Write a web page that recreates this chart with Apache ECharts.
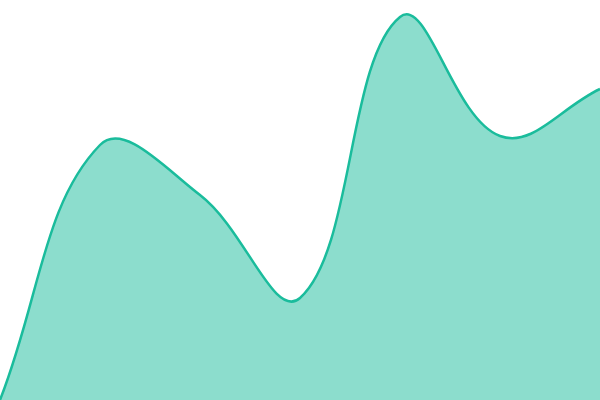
<!DOCTYPE html>
<html>
<head>
<meta charset="utf-8">
<script src="https://cdn.jsdelivr.net/npm/echarts@6/dist/echarts.min.js"></script>
<style>html,body{margin:0;padding:0;background:#fff}#chart{width:600px;height:400px}</style>
</head>
<body>
<div id="chart"></div>
<script>
const categories = ['1', '2', '3', '4', '5', '6', '7'];
const values = [0, 255, 205, 102, 383, 264, 311];
const tension = 0.4;

function splinePath(pts, closeToY) {
  const n = pts.length;
  const cps = [];
  for (let i = 0; i < n; i++) {
    const cur = pts[i];
    const prev = pts[i - 1] || cur;
    const next = pts[i + 1] || cur;
    const d01 = Math.hypot(cur[0] - prev[0], cur[1] - prev[1]);
    const d12 = Math.hypot(next[0] - cur[0], next[1] - cur[1]);
    let s01 = d01 / (d01 + d12), s12 = d12 / (d01 + d12);
    if (!isFinite(s01)) s01 = 0;
    if (!isFinite(s12)) s12 = 0;
    const fa = tension * s01, fb = tension * s12;
    cps.push({
      prev: [cur[0] - fa * (next[0] - prev[0]), cur[1] - fa * (next[1] - prev[1])],
      next: [cur[0] + fb * (next[0] - prev[0]), cur[1] + fb * (next[1] - prev[1])]
    });
  }
  let d = 'M' + pts[0][0] + ' ' + pts[0][1];
  for (let i = 1; i < n; i++) {
    const a = cps[i - 1].next, b = cps[i].prev, p = pts[i];
    d += ' C' + a[0] + ' ' + a[1] + ' ' + b[0] + ' ' + b[1] + ' ' + p[0] + ' ' + p[1];
  }
  if (closeToY != null) {
    d += ' L' + pts[n - 1][0] + ' ' + closeToY + ' L' + pts[0][0] + ' ' + closeToY + ' Z';
  }
  return d;
}

const chart = echarts.init(document.getElementById('chart'), null, { renderer: 'canvas' });
chart.setOption({
  animation: false,
  grid: { left: 0, right: 0, top: 0, bottom: 0 },
  xAxis: { type: 'category', data: categories, boundaryGap: false, show: false },
  yAxis: { type: 'value', min: 0, max: 400, show: false },
  series: [{
    type: 'custom',
    data: [[0, values[0]]],
    renderItem: function (params, api) {
      const pts = values.map((v, i) => api.coord([i, v]));
      const base = api.coord([0, 0])[1];
      return {
        type: 'group',
        children: [
          { type: 'path', shape: { pathData: splinePath(pts, base) },
            style: { fill: 'rgba(26,188,156,0.5)', stroke: null } },
          { type: 'path', shape: { pathData: splinePath(pts, null) },
            style: { fill: null, stroke: '#1abc9c', lineWidth: 2.5 } }
        ]
      };
    }
  }]
});
</script>
</body>
</html>
